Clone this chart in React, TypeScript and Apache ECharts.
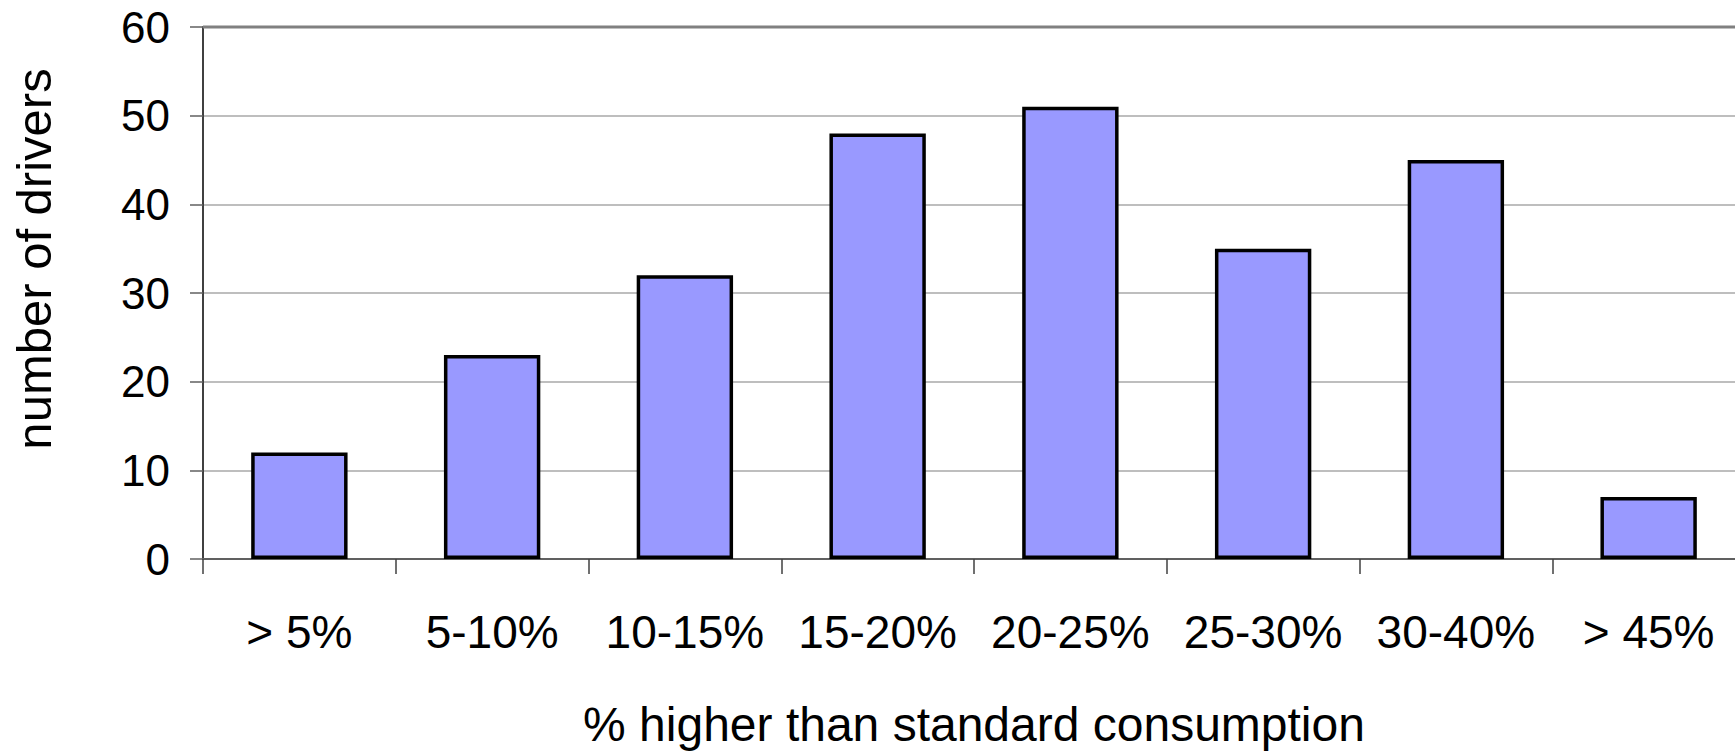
import React, { useEffect, useRef } from "react";
import * as echarts from "echarts";

const categories = ["> 5%", "5-10%", "10-15%", "15-20%", "20-25%", "25-30%", "30-40%", "> 45%"];
const drivers = [12, 23, 32, 48, 51, 35, 45, 7];
const yTicks = { min: 0, max: 60, interval: 10 };
const xTitle = "% higher than standard consumption";
const yTitle = "number of drivers";

export default function App() {
  const ref = useRef<HTMLDivElement>(null);
  useEffect(() => {
    document.body.style.margin = "0";
    const chart = echarts.init(ref.current!, null, { renderer: "svg" });
    const font = "'Liberation Sans', Arial, sans-serif";
    chart.setOption({
      animation: false,
      backgroundColor: "#ffffff",
      grid: { left: 203, top: 27, width: 1542, height: 532, show: false, containLabel: false, outerBoundsMode: "none" },
      xAxis: {
        type: "category",
        data: categories,
        name: xTitle,
        nameLocation: "middle",
        nameGap: 141,
        nameTextStyle: { fontFamily: font, fontSize: 48, color: "#000" },
        axisLine: { show: true, lineStyle: { color: "#606060", width: 2 } },
        axisTick: { show: true, length: 15, lineStyle: { color: "#404040", width: 1.5 } },
        axisLabel: { fontFamily: font, fontSize: 46, color: "#000", margin: 50, interval: 0 },
        splitLine: { show: false },
      },
      yAxis: {
        type: "value",
        min: yTicks.min,
        max: yTicks.max,
        interval: yTicks.interval,
        name: yTitle,
        nameLocation: "middle",
        nameRotate: 90,
        nameGap: 145,
        nameTextStyle: { fontFamily: font, fontSize: 49, color: "#000", padding: [0, 0, 0, 68] },
        axisLine: { show: true, lineStyle: { color: "#404040", width: 2 } },
        axisTick: { show: true, inside: false, length: 13, lineStyle: { color: "#606060", width: 1.5 } },
        axisLabel: { fontFamily: font, fontSize: 44, color: "#000", margin: 33 },
        splitLine: { show: true, lineStyle: { color: "#a8a8a8", width: 1.5 } },
      },
      series: [
        {
          type: "bar",
          data: drivers,
          barWidth: "50%",
          itemStyle: { color: "#9999ff", borderColor: "#000", borderWidth: 3.5 },
        },
      ],
      graphic: [
        {
          type: "line",
          shape: { x1: 203, y1: 27, x2: 1735, y2: 27 },
          style: { stroke: "#808080", lineWidth: 3 },
          z: 10,
        },
      ],
    });
    return () => chart.dispose();
  }, []);
  return <div ref={ref} style={{ position: "absolute", left: 0, top: 0, width: 1735, height: 753 }} />;
}
